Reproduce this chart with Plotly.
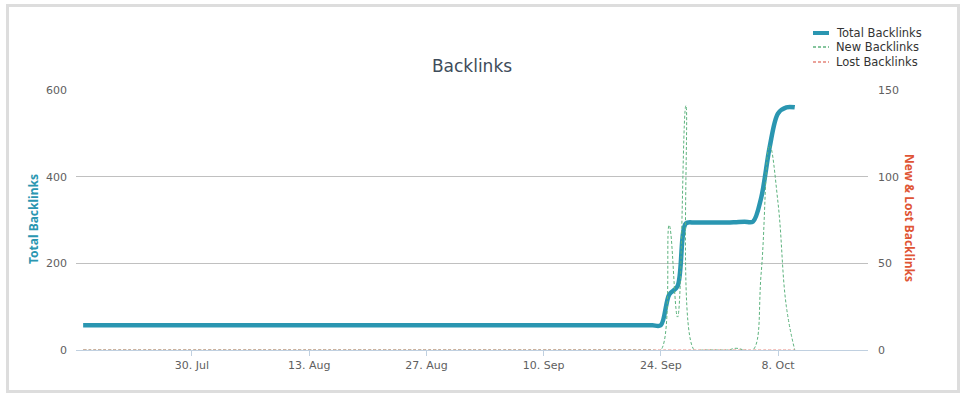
import pandas as pd
import plotly.graph_objects as go

# ---------------- data ----------------
start_date = "2012-07-17"
end_date = "2012-10-10"

total_backlinks = [
    57, 57, 57, 57, 57, 57, 57, 57, 57, 57, 57, 57, 57, 57, 57,          # 17-31 Jul
    57, 57, 57, 57, 57, 57, 57, 57, 57, 57, 57, 57, 57, 57, 57, 57,      # 1-16 Aug
    57, 57, 57, 57, 57, 57, 57, 57, 57, 57, 57, 57, 57, 57, 57,          # 17-31 Aug
    57, 57, 57, 57, 57, 57, 57, 57, 57, 57, 57, 57, 57, 57, 57, 57,      # 1-16 Sep
    57, 57, 57, 57, 57, 57, 57, 57,                                      # 17-24 Sep
    128, 147, 292, 294, 294, 294,                                        # 25-30 Sep
    294, 294, 295, 296, 296, 352, 468, 546, 560, 560,                    # 1-10 Oct
]

new_backlinks = [
    0, 0, 0, 0, 0, 0, 0, 0, 0, 0, 0, 0, 0, 0, 0,
    0, 0, 0, 0, 0, 0, 0, 0, 0, 0, 0, 0, 0, 0, 0, 0,
    0, 0, 0, 0, 0, 0, 0, 0, 0, 0, 0, 0, 0, 0, 0,
    0, 0, 0, 0, 0, 0, 0, 0, 0, 0, 0, 0, 0, 0, 0, 0,
    0, 0, 0, 0, 0, 0, 0, 0,
    72, 19, 141, 0, 0, 0,
    0, 0, 1, 0, 0, 45, 118, 85, 25, 0,
]

lost_backlinks = [
    0, 0, 0, 0, 0, 0, 0, 0, 0, 0, 0, 0, 0, 0, 0,
    0, 0, 0, 0, 0, 0, 0, 0, 0, 0, 0, 0, 0, 0, 0, 0,
    0, 0, 0, 0, 0, 0, 0, 0, 0, 0, 0, 0, 0, 0, 0,
    0, 0, 0, 0, 0, 0, 0, 0, 0, 0, 0, 0, 0, 0, 0, 0,
    0, 0, 0, 0, 0, 0, 0, 0,
    0, 0, 0, 0, 0, 0,
    0, 0, 0, 0, 0, 0, 0, 0, 0, 0,
]

x_tick_vals = ["2012-07-30", "2012-08-13", "2012-08-27", "2012-09-10", "2012-09-24", "2012-10-08"]
x_tick_text = ["30. Jul", "13. Aug", "27. Aug", "10. Sep", "24. Sep", "8. Oct"]
left_ticks = [0, 200, 400, 600]
right_ticks = [0, 50, 100, 150]

series_names = ["Total Backlinks", "New Backlinks", "Lost Backlinks"]

dates = pd.date_range(start_date, end_date, freq="D")

# ---------------- style ----------------
W, H = 962, 397
ML, MR, MT, MB = 76, 94, 90, 47
PW, PH = W - ML - MR, H - MT - MB

C_TOTAL = "#2A96B1"
C_NEW = "#5DB37E"
C_LOST = "#E5847A"
C_RIGHT_TITLE = "#DF5535"
FONT = "DejaVu Sans"


def px_x(p):
    return (p - ML) / PW


def px_y(q):
    return (H - MB - q) / PH


fig = go.Figure()

fig.add_trace(go.Scatter(
    x=dates, y=total_backlinks, name=series_names[0], mode="lines",
    line=dict(color=C_TOTAL, width=4.5, shape="spline", smoothing=0.9),
    yaxis="y", showlegend=False,
))
fig.add_trace(go.Scatter(
    x=dates, y=new_backlinks, name=series_names[1], mode="lines",
    line=dict(color=C_NEW, width=1, dash="3px,2px", shape="spline", smoothing=1.2),
    yaxis="y2", showlegend=False,
))
fig.add_trace(go.Scatter(
    x=dates, y=lost_backlinks, name=series_names[2], mode="lines",
    line=dict(color=C_LOST, width=1, dash="3px,2px", shape="spline", smoothing=1.2),
    yaxis="y2", showlegend=False,
))

shapes = [
    # outer frame
    dict(type="rect", xref="paper", yref="paper",
         x0=px_x(7.5), x1=px_x(958.5), y0=px_y(391.5), y1=px_y(5.5),
         line=dict(color="#DDDDDD", width=3), fillcolor="rgba(0,0,0,0)", layer="below"),
]

annotations = [
    dict(text="Total Backlinks", xref="paper", yref="paper", x=px_x(33), y=px_y(219),
         showarrow=False, textangle=-90, xanchor="center", yanchor="middle",
         font=dict(family="Noto Sans", size=12, color=C_TOTAL, weight="bold")),
    dict(text="New &amp; Lost Backlinks", xref="paper", yref="paper", x=px_x(910), y=px_y(218),
         showarrow=False, textangle=90, xanchor="center", yanchor="middle",
         font=dict(family="Noto Sans", size=12, color=C_RIGHT_TITLE, weight="bold")),
]

# manual legend
legend_rows = [33, 47, 62]
legend_styles = [
    dict(color=C_TOTAL, width=4),
    dict(color=C_NEW, width=1.3, dash="3px,2px"),
    dict(color=C_LOST, width=1.3, dash="3px,2px"),
]
for name, yy, st in zip(series_names, legend_rows, legend_styles):
    shapes.append(dict(type="line", xref="paper", yref="paper",
                       x0=px_x(813), x1=px_x(829), y0=px_y(yy), y1=px_y(yy), line=st))
    annotations.append(dict(text=name, xref="paper", yref="paper", x=px_x(834), y=px_y(yy),
                            showarrow=False, xanchor="left", yanchor="middle",
                            font=dict(family=FONT, size=11.5, color="#333333")))

fig.update_layout(
    width=W, height=H,
    margin=dict(l=ML, r=MR, t=MT, b=MB, pad=0),
    paper_bgcolor="white", plot_bgcolor="white",
    font=dict(family=FONT, size=11, color="#606060"),
    title=dict(text="Backlinks", x=px_x(472), xref="paper", xanchor="center",
               y=1 - 66 / H, yref="container", yanchor="middle",
               font=dict(family=FONT, size=17, color="#3E4C5A")),
    xaxis=dict(
        type="date", range=["2012-07-16 03:30", "2012-10-18 18:00"],
        tickvals=x_tick_vals, ticktext=x_tick_text,
        showgrid=False, zeroline=False,
        showline=True, linecolor="#C0D0E0", linewidth=1,
        ticks="outside", ticklen=5, tickcolor="#C0D0E0", tickwidth=1,
        tickfont=dict(family=FONT, size=11, color="#606060"),
    ),
    yaxis=dict(
        range=[0, 600], tickvals=left_ticks, showgrid=True, gridcolor="#C0C0C0", gridwidth=1,
        zeroline=False, showline=False, ticks="", ticklabelstandoff=8,
        tickfont=dict(family=FONT, size=11, color="#606060"),
    ),
    yaxis2=dict(
        range=[0, 150], tickvals=right_ticks, overlaying="y", side="right",
        showgrid=False, zeroline=False, showline=False, ticks="", ticklabelstandoff=9,
        tickfont=dict(family=FONT, size=11, color="#606060"),
    ),
    shapes=shapes,
    annotations=annotations,
    showlegend=False,
)

fig.write_html(
    "out.html",
    config={"displayModeBar": False},
    post_script="document.body.style.margin='0';document.body.style.overflow='hidden';",
)
